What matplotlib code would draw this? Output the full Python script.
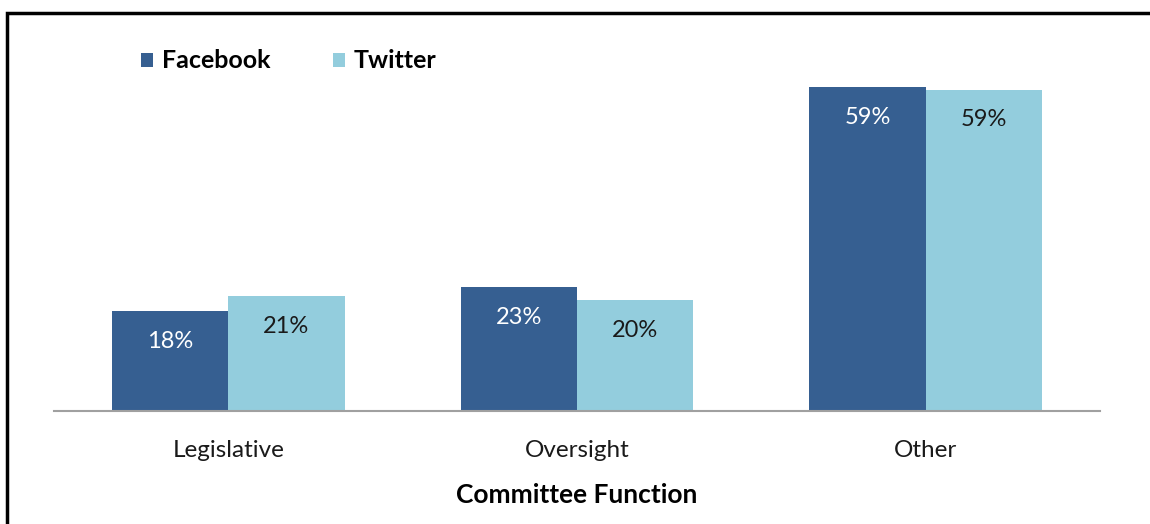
import matplotlib
matplotlib.use("Agg")
import matplotlib.pyplot as plt
import matplotlib.patches as mpatches
import numpy as np

# dados
categorias = ["Legislative", "Oversight", "Other"]
facebook = [18.2, 22.6, 59.0]
twitter = [20.9, 20.2, 58.6]
series_nomes = ["Facebook", "Twitter"]
eixo_x_titulo = "Committee Function"

COR_FB = "#365f91"
COR_TW = "#93cddd"
FONTE = "Lato"

plt.rcParams["font.family"] = [FONTE, "DejaVu Sans"]

W, H = 1150, 524
fig = plt.figure(figsize=(W / 100, H / 100), dpi=100)
fig.patch.set_facecolor("white")

# moldura (só topo e esquerda aparecem)
fig.add_artist(mpatches.Rectangle((7 / W, -0.1), 1.2, 1 - 13 / H + 0.1,
                                  transform=fig.transFigure, fill=False,
                                  edgecolor="black", linewidth=2.5))

# eixos: x de 54 a 1100 px, base em y=411
ax = fig.add_axes([54 / W, (H - 411) / H, (1100 - 54) / W, (411 - 60) / H])
ax.set_xlim(-0.5, 2.5)
ax.set_ylim(0, 64)

x = np.arange(len(categorias))
largura = 1 / 3
b1 = ax.bar(x - largura / 2, facebook, largura, color=COR_FB, label=series_nomes[0], zorder=2)
b2 = ax.bar(x + largura / 2, twitter, largura, color=COR_TW, label=series_nomes[1], zorder=2)

for barras, vals, cor in [(b1, facebook, "white"), (b2, twitter, "#1a1a1a")]:
    for b, v in zip(barras, vals):
        ax.annotate(f"{v:.0f}%", (b.get_x() + b.get_width() / 2, v),
                    xytext=(0, -30), textcoords="offset pixels",
                    ha="center", va="center", fontsize=17, color=cor, zorder=3)

for s in ["top", "right", "left"]:
    ax.spines[s].set_visible(False)
ax.spines["bottom"].set_color("#a0a0a0")
ax.spines["bottom"].set_linewidth(1.5)
ax.set_yticks([])
ax.set_xticks(x)
ax.set_xticklabels(categorias, fontsize=17.5, color="#1a1a1a")
ax.tick_params(axis="x", length=0, pad=21)
ax.set_xlabel(eixo_x_titulo, fontsize=19, fontweight="bold", labelpad=16)

ax.legend(loc="center left", bbox_to_anchor=(141 / W, 1 - 61 / H), bbox_transform=fig.transFigure,
          ncol=2, frameon=False, borderpad=0, borderaxespad=0,
          handlelength=0.48, handleheight=0.48, handletextpad=0.36,
          columnspacing=2.5, prop={"size": 18, "weight": "bold"})

fig.savefig("out.png", dpi=100, facecolor="white")
